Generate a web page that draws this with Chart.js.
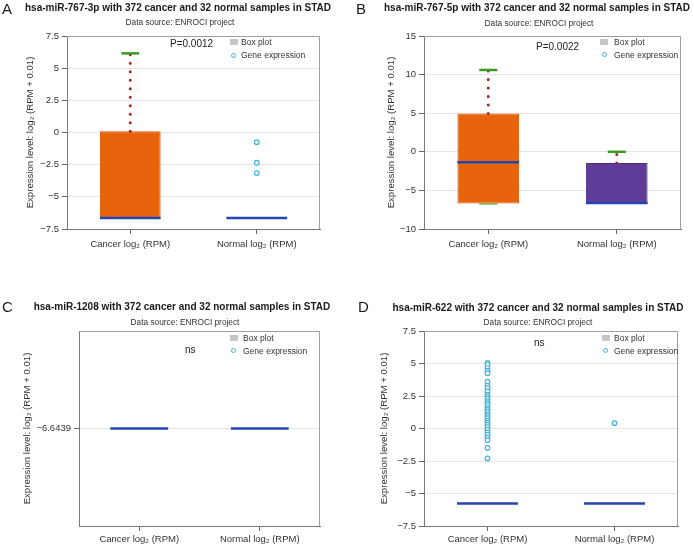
<!DOCTYPE html>
<html>
<head>
<meta charset="utf-8">
<script src="https://cdn.jsdelivr.net/npm/chart.js@4.4.1/dist/chart.umd.min.js"></script>
<style>
  body { margin: 0; background: #fff; width: 694px; height: 547px; position: relative; overflow: hidden;
         font-family: 'Liberation Sans', Arial, Helvetica, sans-serif; color: #1a1a1a; }
  canvas { position: absolute; }
  .t { position: absolute; white-space: nowrap; line-height: 1; }
  .letter { font-size: 15px; }
  .title { font-size: 10px; font-weight: bold; transform: translateX(-50%); }
  .sub { font-size: 8.3px; color: #333; transform: translateX(-50%); }
  .note { font-size: 10px; color: #222; }
  .leg { font-size: 8.5px; color: #333; }
  .sq { position: absolute; width: 8px; height: 6px; background: #c6c6c6; }
  .dot { position: absolute; width: 3px; height: 3px; border: 1.2px solid #3fb4d8; border-radius: 50%; background: #fff; }
</style>
</head>
<body>
<canvas id="cA" width="347" height="262" style="left:0;top:0"></canvas>
<canvas id="cB" width="347" height="262" style="left:347px;top:0"></canvas>
<canvas id="cC" width="347" height="252" style="left:0;top:295px"></canvas>
<canvas id="cD" width="347" height="252" style="left:347px;top:295px"></canvas>

<div class="t letter" style="left:2px;top:1px">A</div>
<div class="t title" style="left:178px;top:3px">hsa-miR-767-3p with 372 cancer and 32 normal samples in STAD</div>
<div class="t sub" style="left:180px;top:18px">Data source: ENROCI project</div>
<div class="t note" style="left:170px;top:39px">P=0.0012</div>
<div class="sq" style="left:230px;top:39px"></div><div class="t leg" style="left:241px;top:38px">Box plot</div>
<div class="dot" style="left:231px;top:53px"></div><div class="t leg" style="left:241px;top:51px">Gene expression</div>

<div class="t letter" style="left:356px;top:1px">B</div>
<div class="t title" style="left:537px;top:3px">hsa-miR-767-5p with 372 cancer and 32 normal samples in STAD</div>
<div class="t sub" style="left:539px;top:19px">Data source: ENROCI project</div>
<div class="t note" style="left:536px;top:42px">P=0.0022</div>
<div class="sq" style="left:600px;top:39px"></div><div class="t leg" style="left:614px;top:38px">Box plot</div>
<div class="dot" style="left:602px;top:52px"></div><div class="t leg" style="left:614px;top:51px">Gene expression</div>

<div class="t letter" style="left:2px;top:299px">C</div>
<div class="t title" style="left:182px;top:302px">hsa-miR-1208 with 372 cancer and 32 normal samples in STAD</div>
<div class="t sub" style="left:185px;top:318px">Data source: ENROCI project</div>
<div class="t note" style="left:185px;top:345px">ns</div>
<div class="sq" style="left:230px;top:335px"></div><div class="t leg" style="left:243px;top:334px">Box plot</div>
<div class="dot" style="left:231px;top:348px"></div><div class="t leg" style="left:243px;top:347px">Gene expression</div>

<div class="t letter" style="left:358px;top:299px">D</div>
<div class="t title" style="left:538px;top:303px">hsa-miR-622 with 372 cancer and 32 normal samples in STAD</div>
<div class="t sub" style="left:538px;top:318px">Data source: ENROCI project</div>
<div class="t note" style="left:534px;top:338px">ns</div>
<div class="sq" style="left:602px;top:335px"></div><div class="t leg" style="left:614px;top:334px">Box plot</div>
<div class="dot" style="left:603px;top:348px"></div><div class="t leg" style="left:614px;top:347px">Gene expression</div>

<script>
const categories = ['Cancer log\u2082 (RPM)', 'Normal log\u2082 (RPM)'];
const yTitle = 'Expression level: log\u2082 (RPM + 0.01)';

// A: hsa-miR-767-3p
const aQ1 = [-6.64, -6.64];
const aQ3 = [0.1, -6.64];
const aMedian = [-6.64, -6.64];
const aMax = [6.15, null];
const aMin = [null, null];
const aCancerPoints = [];
const aNormalPoints = [-0.75, -2.35, -3.15];
const aTicks = [-7.5, -5, -2.5, 0, 2.5, 5, 7.5];

// B: hsa-miR-767-5p
const bQ1 = [-6.7, -6.64];
const bQ3 = [4.95, -1.45];
const bMedian = [-1.35, -6.64];
const bMax = [10.6, 0.0];
const bMin = [-6.75, null];
const bCancerPoints = [];
const bNormalPoints = [];
const bTicks = [-10, -5, 0, 5, 10, 15];

// C: hsa-miR-1208
const cQ1 = [-6.6439, -6.6439];
const cQ3 = [-6.6439, -6.6439];
const cMedian = [-6.6439, -6.6439];
const cMax = [null, null];
const cMin = [null, null];
const cCancerPoints = [];
const cNormalPoints = [];
const cTicks = [-6.6439];

// D: hsa-miR-622
const dQ1 = [-5.76, -5.76];
const dQ3 = [-5.76, -5.76];
const dMedian = [-5.76, -5.76];
const dMax = [null, null];
const dMin = [null, null];
const dCancerPoints = [5.05, 4.9, 4.65, 4.45, 4.25, 3.6, 3.3, 3.1, 2.85, 2.6, 2.45, 2.3, 2.1, 1.95,
  1.8, 1.6, 1.45, 1.3, 1.1, 0.95, 0.8, 0.6, 0.45, 0.3, 0.1, -0.1, -0.3, -0.5, -0.7, -0.9, -1.5, -2.3];
const dNormalPoints = [0.41];
const dTicks = [-7.5, -5, -2.5, 0, 2.5, 5, 7.5];

const xPos = [0.5, 1.5];
const BOX_HALF = 0.24;
const CAP_HALF = 0.07;
const boxColors = ['#e8640c', '#5e3c98'];
const boxBorders = ['#e05400', '#4a2d85'];

Chart.defaults.font.family = "'Liberation Sans', Arial, Helvetica, sans-serif";
Chart.defaults.color = '#333';

const frame = {
  id: 'frame',
  beforeDatasetsDraw(chart) {
    const a = chart.chartArea, ctx = chart.ctx;
    ctx.save();
    ctx.strokeStyle = '#a0a0a0';
    ctx.lineWidth = 1;
    ctx.beginPath();
    ctx.moveTo(a.left, a.top + 0.5);
    ctx.lineTo(a.right - 0.5, a.top + 0.5);
    ctx.lineTo(a.right - 0.5, a.bottom);
    ctx.stroke();
    ctx.restore();
  }
};

function seg(x0, x1, y) {
  return [{x: x0, y: y}, {x: x1, y: y}];
}

function fmt(v) {
  return v < 0 ? '\u2212' + Math.abs(v) : String(v);
}

function makePanel(id, p) {
  const ds = [];
  ds.push({
    type: 'bar',
    data: p.q1.map((v, i) => ({x: xPos[i], y: [v, p.q3[i]]})),
    backgroundColor: boxColors,
    borderColor: boxBorders,
    borderWidth: 1,
    borderSkipped: false,
    barPercentage: BOX_HALF * 2,
    categoryPercentage: 1,
    grouped: false,
    order: 6
  });
  p.max.forEach((v, i) => {
    if (v === null) return;
    ds.push({type: 'line', data: [{x: xPos[i], y: p.q3[i]}, {x: xPos[i], y: v}],
      borderColor: '#a3281c', borderWidth: 3, borderDash: [0, 8.5], borderCapStyle: 'round',
      pointRadius: 0, order: 5});
    ds.push({type: 'line', data: seg(xPos[i] - CAP_HALF, xPos[i] + CAP_HALF, v),
      borderColor: '#3a9a22', borderWidth: 2.5, pointRadius: 0, order: 4});
  });
  p.min.forEach((v, i) => {
    if (v === null) return;
    ds.push({type: 'line', data: seg(xPos[i] - CAP_HALF, xPos[i] + CAP_HALF, v),
      borderColor: '#86c874', borderWidth: 2, pointRadius: 0, order: 7});
  });
  p.median.forEach((v, i) => {
    ds.push({type: 'line', data: seg(xPos[i] - BOX_HALF, xPos[i] + BOX_HALF, v),
      borderColor: '#2445b2', borderWidth: 2.5, pointRadius: 0, order: 3});
  });
  [p.cancerPts, p.normalPts].forEach((pts, i) => {
    if (!pts.length) return;
    ds.push({type: 'scatter', data: pts.map(v => ({x: xPos[i], y: v})),
      pointRadius: 2.3, borderColor: '#3fb4d8', backgroundColor: '#fff', borderWidth: 1.2, order: 1});
  });

  return new Chart(document.getElementById(id), {
    type: 'bar',
    data: {datasets: ds},
    plugins: [frame],
    options: {
      responsive: false,
      animation: false,
      layout: {padding: {top: 36, right: p.padRight, left: 0, bottom: 0}},
      plugins: {legend: {display: false}, tooltip: {enabled: false}},
      scales: {
        x: {
          type: 'linear', min: 0, max: 2, offset: false,
          afterBuildTicks: axis => { axis.ticks = xPos.map(v => ({value: v})); },
          afterFit: axis => { axis.height = p.xHeight; },
          ticks: {callback: (v, i) => categories[i], font: {size: 9.5}, color: '#333', padding: p.xPad, maxRotation: 0},
          grid: {drawOnChartArea: false, offset: false, tickLength: 5, tickColor: '#666'},
          border: {color: '#777'}
        },
        y: {
          min: p.yMin, max: p.yMax,
          afterBuildTicks: axis => { axis.ticks = p.ticks.map(v => ({value: v})); },
          afterFit: axis => { axis.width = p.yWidth; },
          ticks: {callback: v => fmt(v), font: {size: 9.5}, color: '#333', padding: 3},
          grid: {color: '#e4e4e4', tickLength: 5, tickColor: '#666'},
          border: {color: '#777'},
          title: {display: true, text: yTitle, font: {size: 9.6}, color: '#333', padding: {top: p.titlePad, bottom: 0}}
        }
      }
    }
  });
}

makePanel('cA', {q1: aQ1, q3: aQ3, median: aMedian, max: aMax, min: aMin, cancerPts: aCancerPoints, normalPts: aNormalPoints,
  ticks: aTicks, yMin: -7.5, yMax: 7.5, padRight: 27, yWidth: 67, xHeight: 33, xPad: 5, titlePad: 25});
makePanel('cB', {q1: bQ1, q3: bQ3, median: bMedian, max: bMax, min: bMin, cancerPts: bCancerPoints, normalPts: bNormalPoints,
  ticks: bTicks, yMin: -10, yMax: 15, padRight: 13, yWidth: 77, xHeight: 33, xPad: 5, titlePad: 39});
makePanel('cC', {q1: cQ1, q3: cQ3, median: cMedian, max: cMax, min: cMin, cancerPts: cCancerPoints, normalPts: cNormalPoints,
  ticks: cTicks, yMin: -7.6439, yMax: -5.6439, padRight: 27, yWidth: 79, xHeight: 21, xPad: 3, titlePad: 22});
makePanel('cD', {q1: dQ1, q3: dQ3, median: dMedian, max: dMax, min: dMin, cancerPts: dCancerPoints, normalPts: dNormalPoints,
  ticks: dTicks, yMin: -7.5, yMax: 7.5, padRight: 16, yWidth: 77, xHeight: 21, xPad: 3, titlePad: 32});
</script>
</body>
</html>
